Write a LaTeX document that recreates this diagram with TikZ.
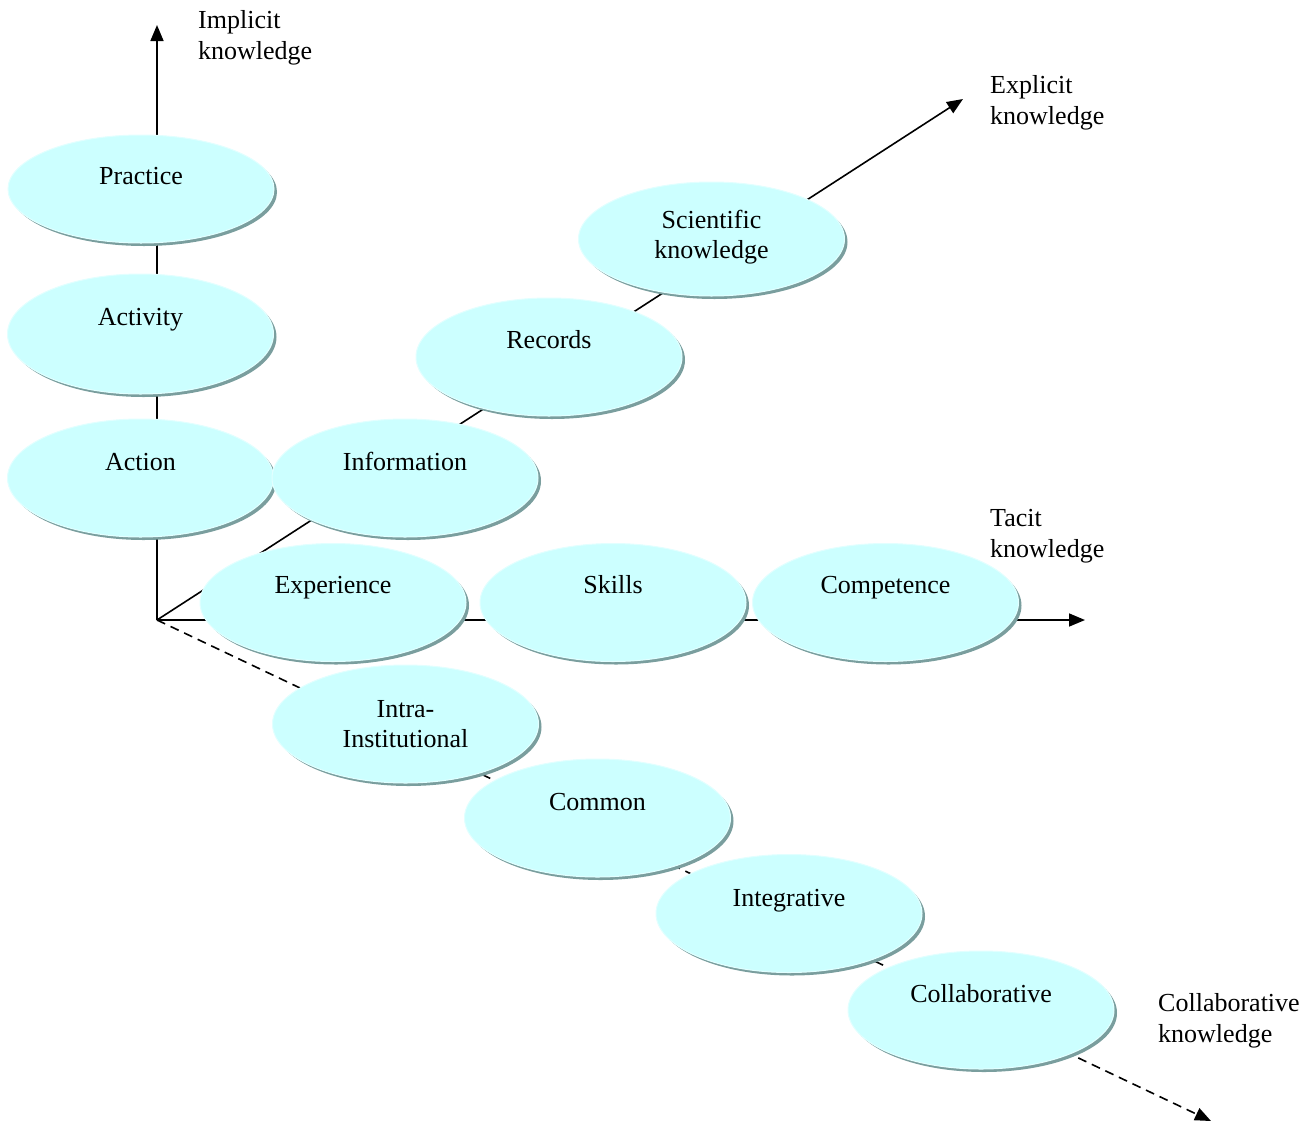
\documentclass[tikz,border=0pt]{standalone}
\usepackage{fontspec}
\setmainfont{Liberation Serif}
\usetikzlibrary{shapes.geometric,arrows.meta}

\definecolor{blobfill}{HTML}{CCFFFF}
\definecolor{blobrim}{HTML}{E2FFFF}
\definecolor{blobshade}{HTML}{7A9E9E}

\tikzset{
  axis/.style={line width=1.6pt, -{Triangle[length=16pt,width=13pt]}},
  dashedaxis/.style={axis, dash pattern=on 9pt off 6pt},
  blob/.style={ellipse, minimum width=266pt, minimum height=118pt, inner sep=0pt,
    fill=blobfill, draw=blobrim, line width=1pt,
    preaction={fill=blobshade, transform canvas={xshift=3pt,yshift=-3pt}}},
  % base anchor of a multi-line text is the baseline of its last line
  txt/.style={anchor=base, font=\fontsize{26}{30}\selectfont, align=center, inner sep=0pt},
  side/.style={anchor=base west, font=\fontsize{26}{31}\selectfont, align=left, inner sep=0pt}
}

\begin{document}
\begin{tikzpicture}[x=1pt,y=-1pt]
\useasboundingbox (0,0) rectangle (1315,1122);

% axes, drawn first so the ellipses sit on top of them
\coordinate (o) at (157,620);
\coordinate (implicit) at (157,25);
\coordinate (tacit) at (1085,620);
\coordinate (explicit) at (963,99);
\coordinate (collab) at (1211,1121);
\draw[axis] (o) -- (implicit);
\draw[axis] (o) -- (tacit);
\draw[axis] (o) -- (explicit);
\draw[dashedaxis] (o) -- (collab);

% axis captions
\node[side] (capimpl) at (198,59) {Implicit\\knowledge};
\node[side] (capexpl) at (990,124) {Explicit\\knowledge};
\node[side] (captacit) at (990,557) {Tacit\\knowledge};
\node[side] (capcoll) at (1158,1042) {Collaborative\\knowledge};

% implicit axis
\node[blob, minimum height=108pt] (practice) at (141,189) {};
\node[txt] at ([yshift=5pt]practice.center) {Practice};
\node[blob, minimum height=120pt] (activity) at (140.5,334) {};
\node[txt] at ([yshift=9pt]activity.center) {Activity};
\node[blob] (action) at (140.5,478) {};
\node[txt] at ([yshift=8pt]action.center) {Action};

% explicit axis
\node[blob] (information) at (405,478) {};
\node[txt] at ([yshift=8pt]information.center) {Information};
\node[blob] (records) at (549,357) {};
\node[txt] at ([yshift=9pt]records.center) {Records};
\node[blob, minimum height=114pt] (scientific) at (711.5,239) {};
\node[txt] at ([yshift=-19pt]scientific.center) {Scientific\\knowledge};

% tacit axis
\node[blob] (experience) at (333,602.5) {};
\node[txt] at ([yshift=9.5pt]experience.center) {Experience};
\node[blob] (skills) at (613,602.5) {};
\node[txt] at ([yshift=9.5pt]skills.center) {Skills};
\node[blob] (competence) at (885.5,602.5) {};
\node[txt] at ([yshift=9.5pt]competence.center) {Competence};

% collaborative axis
\node[blob] (intra) at (405.5,724) {};
\node[txt] at ([yshift=-23pt]intra.center) {Intra-\\Institutional};
\node[blob] (common) at (597.5,818) {};
\node[txt] at ([yshift=8pt]common.center) {Common};
\node[blob] (integrative) at (789,913.5) {};
\node[txt] at ([yshift=7.5pt]integrative.center) {Integrative};
\node[blob] (collaborative) at (981,1010) {};
\node[txt] at ([yshift=8pt]collaborative.center) {Collaborative};

\end{tikzpicture}
\end{document}
